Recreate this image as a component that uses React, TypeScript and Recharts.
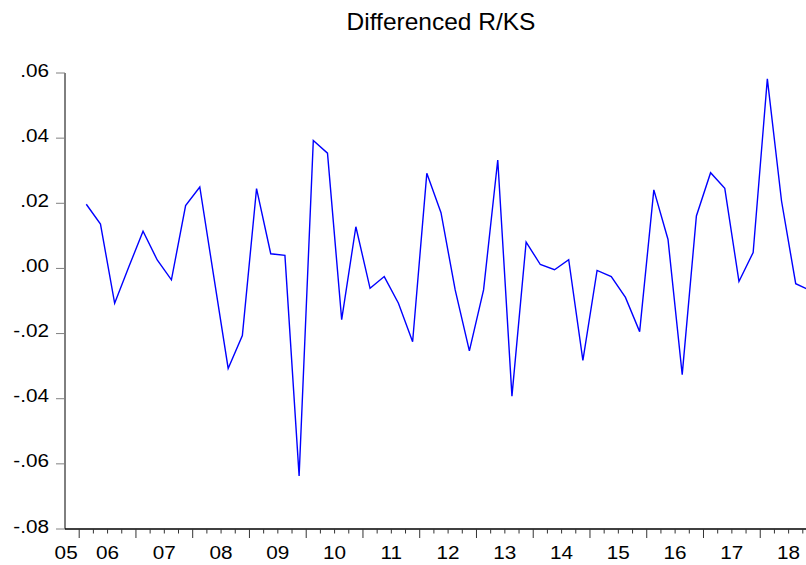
// Differenced R/KS - quarterly line chart, EViews style

import React from 'react';
import { Line, LineChart, XAxis, YAxis } from 'recharts';

const YEARS = [2006, 2007, 2008, 2009, 2010, 2011, 2012, 2013, 2014, 2015, 2016, 2017, 2018];
const QUARTERS = [1, 2, 3, 4];

// one value per quarter, 2006Q1 .. 2018Q4
const VALUES = [
  0.0197, 0.0136, -0.0107, 0.0005,
  0.0114, 0.0026, -0.0035, 0.0193,
  0.025, -0.0029, -0.0307, -0.0206,
  0.0245, 0.0045, 0.004, -0.0637,
  0.0393, 0.0354, -0.0157, 0.0128,
  -0.0061, -0.0025, -0.0107, -0.0225,
  0.0292, 0.0171, -0.0066, -0.0253,
  -0.0066, 0.0333, -0.0392, 0.0081,
  0.0012, -0.0004, 0.0027, -0.0282,
  -0.0006, -0.0025, -0.0089, -0.0194,
  0.0241, 0.0089, -0.0326, 0.0161,
  0.0294, 0.0246, -0.004, 0.0049,
  0.0582, 0.0207, -0.0047, -0.0067,
];

const Y_TICKS = [-0.08, -0.06, -0.04, -0.02, 0, 0.02, 0.04, 0.06];
const YEAR_LABELS = ['05', '06', '07', '08', '09', '10', '11', '12', '13', '14', '15', '16', '17', '18'];
const FIRST_LABEL_YEAR = 2005;

const X_MIN = 2005.75;
const X_MAX = 2019;

const FONT = "'Liberation Sans', Arial, Helvetica, sans-serif";

const data = YEARS.flatMap((y) => QUARTERS.map((q) => ({ period: `${y}Q${q}`, t: y + (q - 0.5) / 4 }))).map(
  (d, i) => ({ ...d, v: VALUES[i] }),
);

// quarter boundaries for tick marks
const boundaries = YEARS.flatMap((y) => QUARTERS.map((q) => y + (q - 1) / 4)).concat([X_MAX]);

// year labels sit in the middle of each year, first one clamped into the plot
const labelPos = new Map<string, string>();
YEAR_LABELS.forEach((lab, i) => {
  const pos = Math.max(FIRST_LABEL_YEAR + i + 0.5, X_MIN + 0.02);
  labelPos.set(pos.toFixed(3), lab);
});

const xTicks = Array.from(new Set([...boundaries, ...Array.from(labelPos.keys()).map(Number)])).sort((a, b) => a - b);

function fmtY(v: number) {
  const s = Math.abs(v).toFixed(2).slice(1);
  return (v < -1e-9 ? '-' : '') + s;
}

function XTick(props: any) {
  const { x, y, payload } = props;
  const v = payload.value as number;
  const q = Math.round(v * 4);
  const isBoundary = Math.abs(v * 4 - q) < 1e-6 && v > X_MIN + 1e-6;
  const major = isBoundary && q % 4 === 0;
  const label = labelPos.get(v.toFixed(3));
  return (
    <g>
      {isBoundary && (
        <line x1={x} x2={x} y1={y} y2={y + (major ? 9 : 4.5)} stroke="#333" strokeWidth={1} />
      )}
      {label && (
        <text
          transform={`translate(${x},${y + 29.6}) scale(1.12,1)`}
          textAnchor="middle"
          fontFamily={FONT}
          fontSize={18.5}
          fill="#000"
        >
          {label}
        </text>
      )}
    </g>
  );
}

function YTick(props: any) {
  const { x, y, payload } = props;
  return (
    <text
      transform={`translate(${x},${y + 3.6}) scale(1.12,1)`}
      textAnchor="end"
      fontFamily={FONT}
      fontSize={18.5}
      fill="#000"
    >
      {fmtY(payload.value)}
    </text>
  );
}

export default function App() {
  return (
    <div
      style={{
        position: 'fixed',
        left: 0,
        top: 0,
        width: 806,
        height: 565,
        overflow: 'hidden',
        background: '#fff',
      }}
    >
      <div
        style={{
          position: 'absolute',
          left: 0,
          top: 10.4,
          width: 882,
          textAlign: 'center',
          fontFamily: FONT,
          fontSize: 24.5,
          lineHeight: '24px',
          color: '#000',
        }}
      >
        Differenced R/KS
      </div>
      <LineChart width={830} height={565} data={data} margin={{ top: 73, right: 13, left: 0, bottom: 0 }}>
        <XAxis
          dataKey="t"
          type="number"
          domain={[X_MIN, X_MAX]}
          ticks={xTicks}
          interval={0}
          height={36}
          tickSize={0}
          tickMargin={0}
          tickLine={false}
          axisLine={{ stroke: '#000', strokeWidth: 1.3 }}
          tick={<XTick />}
        />
        <XAxis
          xAxisId="top"
          orientation="top"
          type="number"
          domain={[X_MIN, X_MAX]}
          height={0}
          tick={false}
          tickLine={false}
          axisLine={{ stroke: '#000', strokeWidth: 1 }}
        />
        <YAxis
          type="number"
          domain={[-0.08, 0.06]}
          ticks={Y_TICKS}
          interval={0}
          width={65}
          tickSize={9}
          tickMargin={7}
          tickLine={{ stroke: '#808080' }}
          axisLine={{ stroke: '#000', strokeWidth: 1 }}
          tick={<YTick />}
        />
        <Line
          type="linear"
          dataKey="v"
          stroke="#0000ff"
          strokeWidth={1.4}
          dot={false}
          isAnimationActive={false}
        />
      </LineChart>
    </div>
  );
}
